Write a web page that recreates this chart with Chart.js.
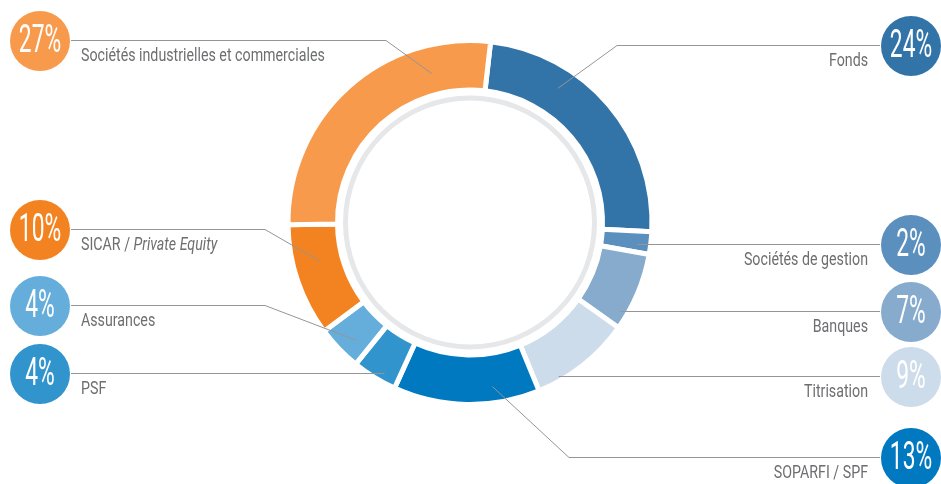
<!DOCTYPE html>
<html>
<head>
<meta charset="utf-8">
<script src="https://cdn.jsdelivr.net/npm/chart.js@4/dist/chart.umd.min.js"></script>
<style>
  html, body { margin: 0; padding: 0; background: #fff; }
  #wrap { width: 941px; height: 484px; position: relative; }
</style>
</head>
<body>
<div id="wrap"><canvas id="donut" width="941" height="484"></canvas></div>
<script>
// données (sens horaire depuis le haut)
const categories = ['Fonds', 'Sociétés de gestion', 'Banques', 'Titrisation', 'SOPARFI / SPF', 'PSF', 'Assurances', 'SICAR / Private Equity', 'Sociétés industrielles et commerciales'];
const parts = [24, 2, 7, 9, 13, 4, 4, 10, 27];
const couleurs = ['#3374a8', '#5b8fbd', '#86abcc', '#cddcea', '#0079c0', '#3194cd', '#65aedb', '#f38320', '#f89a4b'];

// mise en page des étiquettes
const cote = ['right', 'right', 'right', 'right', 'right', 'left', 'left', 'left', 'left'];
const ligneY = [45, 244, 311, 376, 457, 373, 305, 229, 40];
const coudeX = [617, null, null, null, 569, null, 265, 265, 386];
const ancreAngle = [0.31, 0.6, 0.81, 0.77, 0.31, 0.35, 0.35, 0.62, 0.785];
const ancreRayon = [0.57, 0.72, 0.85, 0.93, 0.67, 0.83, 0.63, 0.46, 0.43];

const ctx = document.getElementById('donut');
const gris = '#939598';
const texte = '#6d6e70';

const ecrire = (c, morceaux, x, y, taille, echelle, align) => {
    // morceaux: [[texte, italique], ...]
    c.save();
    c.textBaseline = 'middle';
    let total = 0;
    morceaux.forEach(m => {
        c.font = `${m[1] ? 'italic ' : ''}${taille}px Roboto, "Open Sans", sans-serif`;
        total += c.measureText(m[0]).width;
    });
    let x0 = align == 'right' ? x - total * echelle : (align == 'center' ? x - total * echelle / 2 : x);
    c.translate(x0, y);
    c.scale(echelle, 1);
    let cx = 0;
    morceaux.forEach(m => {
        c.font = `${m[1] ? 'italic ' : ''}${taille}px Roboto, "Open Sans", sans-serif`;
        c.textAlign = 'left';
        c.fillText(m[0], cx, 0);
        cx += c.measureText(m[0]).width;
    });
    c.restore();
};

const etiquettes = {
    id: 'etiquettes',
    afterDatasetsDraw(chart) {
        const c = chart.ctx;
        const arcs = chart.getDatasetMeta(0).data;
        const a0 = arcs[0];

        // anneau gris intérieur
        c.save();
        c.strokeStyle = '#e6e7e9';
        c.lineWidth = 5;
        c.beginPath();
        c.arc(a0.x, a0.y, a0.innerRadius - 8, 0, Math.PI * 2);
        c.stroke();
        c.restore();

        arcs.forEach((arc, i) => {
            const ang = arc.startAngle + ancreAngle[i] * (arc.endAngle - arc.startAngle);
            const r = arc.innerRadius + ancreRayon[i] * (arc.outerRadius - arc.innerRadius);
            const ax = arc.x + Math.cos(ang) * r;
            const ay = arc.y + Math.sin(ang) * r;
            const droite = cote[i] == 'right';
            const cercleX = droite ? 911 : 40;
            const y = ligneY[i];

            // trait
            c.save();
            c.strokeStyle = gris;
            c.lineWidth = 1;
            c.beginPath();
            c.moveTo(droite ? cercleX - 31 : cercleX + 31, y + 0.5);
            if (coudeX[i] != null) {
                c.lineTo(coudeX[i], y + 0.5);
                c.lineTo(ax, ay);
            } else {
                c.lineTo(ax, y + 0.5);
            }
            c.stroke();

            // pastille
            c.fillStyle = couleurs[i];
            c.beginPath();
            c.arc(cercleX, y + 1, 30, 0, Math.PI * 2);
            c.fill();
            c.restore();

            c.fillStyle = '#fff';
            ecrire(c, [[parts[i] + '%', false]], cercleX, y + 2, 38, 0.6, 'center');

            c.fillStyle = texte;
            let morceaux = [[categories[i], false]];
            if (categories[i] == 'SICAR / Private Equity') morceaux = [['SICAR / ', false], ['Private Equity', true]];
            ecrire(c, morceaux, droite ? 868 : 81, y + 16, 18, 0.79, droite ? 'right' : 'left');
        });
    }
};

new Chart(ctx, {
    type: 'doughnut',
    data: {
        labels: categories,
        datasets: [{
            data: parts,
            backgroundColor: couleurs,
            borderColor: '#ffffff',
            borderWidth: 5,
        }],
    },
    options: {
        responsive: false,
        animation: false,
        rotation: 6.5,
        radius: 182,
        cutout: '72.8%',
        layout: {
            padding: { left: 0, right: 1, top: 0, bottom: 39 }
        },
        plugins: {
            legend: { display: false },
            tooltip: { enabled: false },
        },
    },
    plugins: [etiquettes]
});
</script>
</body>
</html>
